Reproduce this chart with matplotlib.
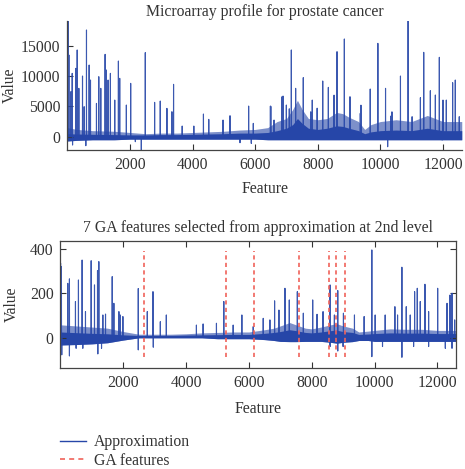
import matplotlib

matplotlib.use("Agg")
import matplotlib.pyplot as plt
from matplotlib.lines import Line2D

# ---- data ------------------------------------------------------------------------
N_FEATURES = 12600

# top panel: spikes of the raw profile (feature index, value)
RAW_PEAK_X = [20, 48, 111, 154, 271, 313, 366, 483, 536, 610, 695, 738, 929, 1003, 1067,
              1205, 1247, 1300, 1374, 1513, 1630, 1672, 1884, 2022, 2489, 2787, 2967, 3180,
              3339, 3392, 3668, 4040, 4347, 4517, 4973, 5196, 5791, 5940, 6486, 6500, 6603,
              6858, 6890, 6996, 7090, 7155, 7293, 7537, 7775, 7824, 7980, 8158, 8338, 8520,
              8615, 8849, 9029, 9358, 9380, 9676, 9920, 10165, 10335, 10370, 10642, 10886,
              11014, 11279, 11385, 11597, 11757, 11884, 12001, 12107, 12309, 12394, 12521]
RAW_PEAK_Y = [19100, 13460, 7420, 10440, 11260, 14290, 7970, 10000, 4950, 17580, 11810, 9340,
              5490, 9890, 7970, 13570, 10990, 9340, 10440, 6040, 12470, 9620, 5220, 8790,
              13850, 5660, 5880, 4670, 4120, 8630, 1760, 1760, 3740, 2860, 2750, 3460, 5050,
              2200, 5050, 5000, 2750, 6590, 6700, 5220, 4600, 14290, 7970, 9730, 4100, 6040,
              4700, 9180, 8130, 6850, 14010, 16100, 6590, 3850, 5200, 7860, 15380, 7970, 3410,
              4100, 10000, 19120, 3300, 6430, 13900, 7580, 6870, 13080, 6040, 6040, 8900,
              9340, 3300]
RAW_DIP_X = [165, 589, 2171, 2362, 5515, 5876, 10233, 11974]
RAW_DIP_Y = [-1370, -1480, -820, -2200, -990, -1100, -1650, -550]

# top panel: envelope of the dense noise band
RAW_BAND_X = [0, 300, 800, 1500, 2000, 2500, 3000, 3500, 4000, 4500, 5000, 5500, 6000, 6400,
              6700, 7000, 7200, 7350, 7500, 7700, 8000, 8300, 8600, 8800, 9000, 9300, 9500,
              9700, 10000, 10500, 11000, 11500, 12000, 12600]
RAW_BAND_HI = [1500, 1200, 1000, 900, 700, 500, 600, 600, 700, 800, 900, 1100, 1200, 1500,
               2500, 3000, 4500, 6000, 4500, 3000, 2800, 3000, 4000, 3800, 3200, 2500, 1200,
               2000, 2500, 2800, 2500, 3500, 2500, 2500]
RAW_CORE_HI = [500, 450, 400, 350, 300, 300, 350, 350, 400, 450, 500, 600, 600, 700,
               1000, 1400, 2000, 3000, 2200, 1400, 1200, 1400, 1800, 1700, 1400, 1000, 500,
               800, 1000, 1100, 1000, 1400, 1000, 1000]
RAW_BAND_LO = [-700, -600, -500, -500, -400, -400, -400, -400, -400, -400, -400, -400, -400,
               -500, -500, -500, -500, -500, -500, -500, -500, -500, -500, -500, -500, -500,
               -500, -500, -500, -500, -500, -500, -500, -500]

# bottom panel: spikes of the 2nd level approximation
APPROX_PEAK_X = [5, 32, 234, 287, 479, 574, 691, 798, 979, 1085, 1181, 1223, 1351, 1436,
                 1649, 1702, 1862, 1904, 1989, 2479, 2766, 2947, 3181, 3372, 4330, 4543, 4968,
                 5202, 5500, 5777, 6138, 6457, 6670, 6819, 6957, 7149, 7287, 7543, 7734, 8032,
                 8170, 8362, 8585, 8723, 8830, 9011, 9362, 9670, 9915, 10021, 10340, 10649,
                 10734, 10872, 11011, 11138, 11277, 11362, 11457, 11606, 11723, 12011, 12309,
                 12404, 12468, 12553]
APPROX_PEAK_Y = [335, 320, 245, 265, 164, 260, 349, 119, 346, 238, 302, 342, 104, 108, 275,
                 156, 119, 104, 97, 222, 119, 208, 74, 104, 59, 64, 67, 164, 59, 104, 52, 89,
                 82, 167, 126, 223, 171, 208, 112, 171, 107, 119, 238, 104, 213, 112, 104, 97,
                 394, 104, 104, 141, 104, 317, 141, 104, 208, 223, 164, 241, 119, 223, 156,
                 193, 201, 82]
APPROX_DIP_X = [5, 43, 287, 500, 713, 1191, 1309, 2479, 2957, 8585, 8830, 9000, 9915, 10255,
                10872, 11245, 11723, 12255, 12468]
APPROX_DIP_Y = [-67, -74, -79, -45, -45, -70, -45, -52, -40, -37, -57, -37, -82, -37, -85,
                -37, -37, -45, -45]

APPROX_BAND_X = [0, 500, 1000, 1500, 2000, 2500, 3000, 3500, 4000, 4500, 5000, 5500, 6000,
                 6500, 6800, 7000, 7300, 7500, 7800, 8000, 8300, 8600, 8800, 9000, 9300, 9500,
                 9800, 10000, 10500, 11000, 11500, 12000, 12600]
APPROX_BAND_HI = [60, 55, 50, 45, 30, 18, 18, 18, 20, 24, 26, 28, 28, 38, 45, 55, 70, 60, 45,
                  42, 50, 60, 65, 55, 45, 28, 32, 35, 42, 40, 40, 35, 35]
APPROX_CORE_HI = [28, 25, 22, 20, 15, 12, 12, 12, 14, 15, 16, 17, 17, 22, 26, 30, 38, 34, 26,
                  24, 28, 34, 36, 30, 26, 17, 19, 21, 24, 23, 23, 21, 21]
APPROX_BAND_LO = [-30, -28, -25, -20, -8, 2, 2, 2, 2, 2, -2, -2, -2, -6, -10, -14, -15, -15,
                  -14, -14, -14, -18, -22, -18, -15, -10, -10, -14, -14, -14, -14, -14, -14]

GA_FEATURES = [2660, 5287, 6160, 7585, 8553, 8777, 9064]
GA_LINE_RANGE = (-85, 390)

TOP_TICKS_X = [2000, 4000, 6000, 8000, 10000, 12000]
TOP_TICKS_Y = [0, 5000, 10000, 15000]
BOTTOM_TICKS_Y = [0, 200, 400]
BOTTOM_YLIM = (-134, 435)

BLUE = "#2646a8"
RED = "#f0625a"
TEXT = "#333333"
FONT = ["Liberation Serif", "DejaVu Serif"]
FS = 11.3


def spike_trace(peak_x, peak_y, dip_x, dip_y, base):
    # turn peak/dip lists into a polyline that rises from the baseline and falls back
    events = sorted(zip(peak_x + dip_x, peak_y + dip_y))
    xs, ys = [0], [base]
    for x, y in events:
        xs += [x - 3, x, x + 3]
        ys += [base, y, base]
    xs.append(N_FEATURES)
    ys.append(base)
    return xs, ys


def style_axis(axis, boxed):
    axis.tick_params(direction="in", length=4, width=0.8, colors=TEXT, labelsize=FS, pad=5,
                     top=boxed, right=boxed)
    for name, spine in axis.spines.items():
        spine.set_color("#444444")
        spine.set_linewidth(0.9)
        if not boxed and name in ("top", "right"):
            spine.set_visible(False)
    axis.set_xlim(1, N_FEATURES)
    axis.set_xticks(TOP_TICKS_X)


def draw_signal(axis, band, core, lo, band_x, trace):
    axis.fill_between(band_x, lo, band, color=BLUE, alpha=0.6, lw=0)
    axis.fill_between(band_x, lo, core, color=BLUE, lw=0)
    axis.plot(*trace, color=BLUE, linewidth=0.8, alpha=0.9)


def main() -> None:
    plt.rcParams["font.family"] = FONT
    plt.rcParams["text.color"] = TEXT
    plt.rcParams["axes.labelcolor"] = TEXT

    fig = plt.figure(figsize=(4.65, 4.69), dpi=100)
    top = fig.add_axes([0.145, 0.680, 0.848, 0.276])
    bottom = fig.add_axes([0.130, 0.2147, 0.851, 0.272])

    # raw profile
    draw_signal(top, RAW_BAND_HI, RAW_CORE_HI, RAW_BAND_LO, RAW_BAND_X,
                spike_trace(RAW_PEAK_X, RAW_PEAK_Y, RAW_DIP_X, RAW_DIP_Y, 0))
    top.set_ylim(min(RAW_DIP_Y), max(RAW_PEAK_Y))
    top.set_yticks(TOP_TICKS_Y)
    style_axis(top, boxed=False)
    top.set_title("Microarray profile for prostate cancer", fontsize=FS, pad=3, color=TEXT)
    top.set_xlabel("Feature", fontsize=FS, labelpad=6)
    top.set_ylabel("Value", fontsize=FS, labelpad=2.5)

    # approximation with GA features
    draw_signal(bottom, APPROX_BAND_HI, APPROX_CORE_HI, APPROX_BAND_LO, APPROX_BAND_X,
                spike_trace(APPROX_PEAK_X, APPROX_PEAK_Y, APPROX_DIP_X, APPROX_DIP_Y, 8))
    bottom.vlines(GA_FEATURES, *GA_LINE_RANGE, colors=RED, linewidth=1.2, linestyles=(0, (2.5, 2)))
    bottom.set_ylim(*BOTTOM_YLIM)
    bottom.set_yticks(BOTTOM_TICKS_Y)
    style_axis(bottom, boxed=True)
    bottom.set_title("7 GA features selected from approximation at 2nd level", fontsize=FS,
                     pad=6, color=TEXT)
    bottom.set_xlabel("Feature", fontsize=FS, labelpad=7)
    bottom.set_ylabel("Value", fontsize=FS, labelpad=7)

    handles = [
        Line2D([], [], color=BLUE, linewidth=1.0),
        Line2D([], [], color=RED, linewidth=1.2, linestyle=(0, (3, 2.5))),
    ]
    fig.legend(handles, ["Approximation", "GA features"], loc="upper left",
               bbox_to_anchor=(0.129, 0.074), frameon=False, fontsize=FS, borderpad=0,
               borderaxespad=0, handlelength=1.65, handletextpad=0.5, labelspacing=0.15)

    fig.savefig("out.png", dpi=100)
    plt.close(fig)


if __name__ == "__main__":
    main()
